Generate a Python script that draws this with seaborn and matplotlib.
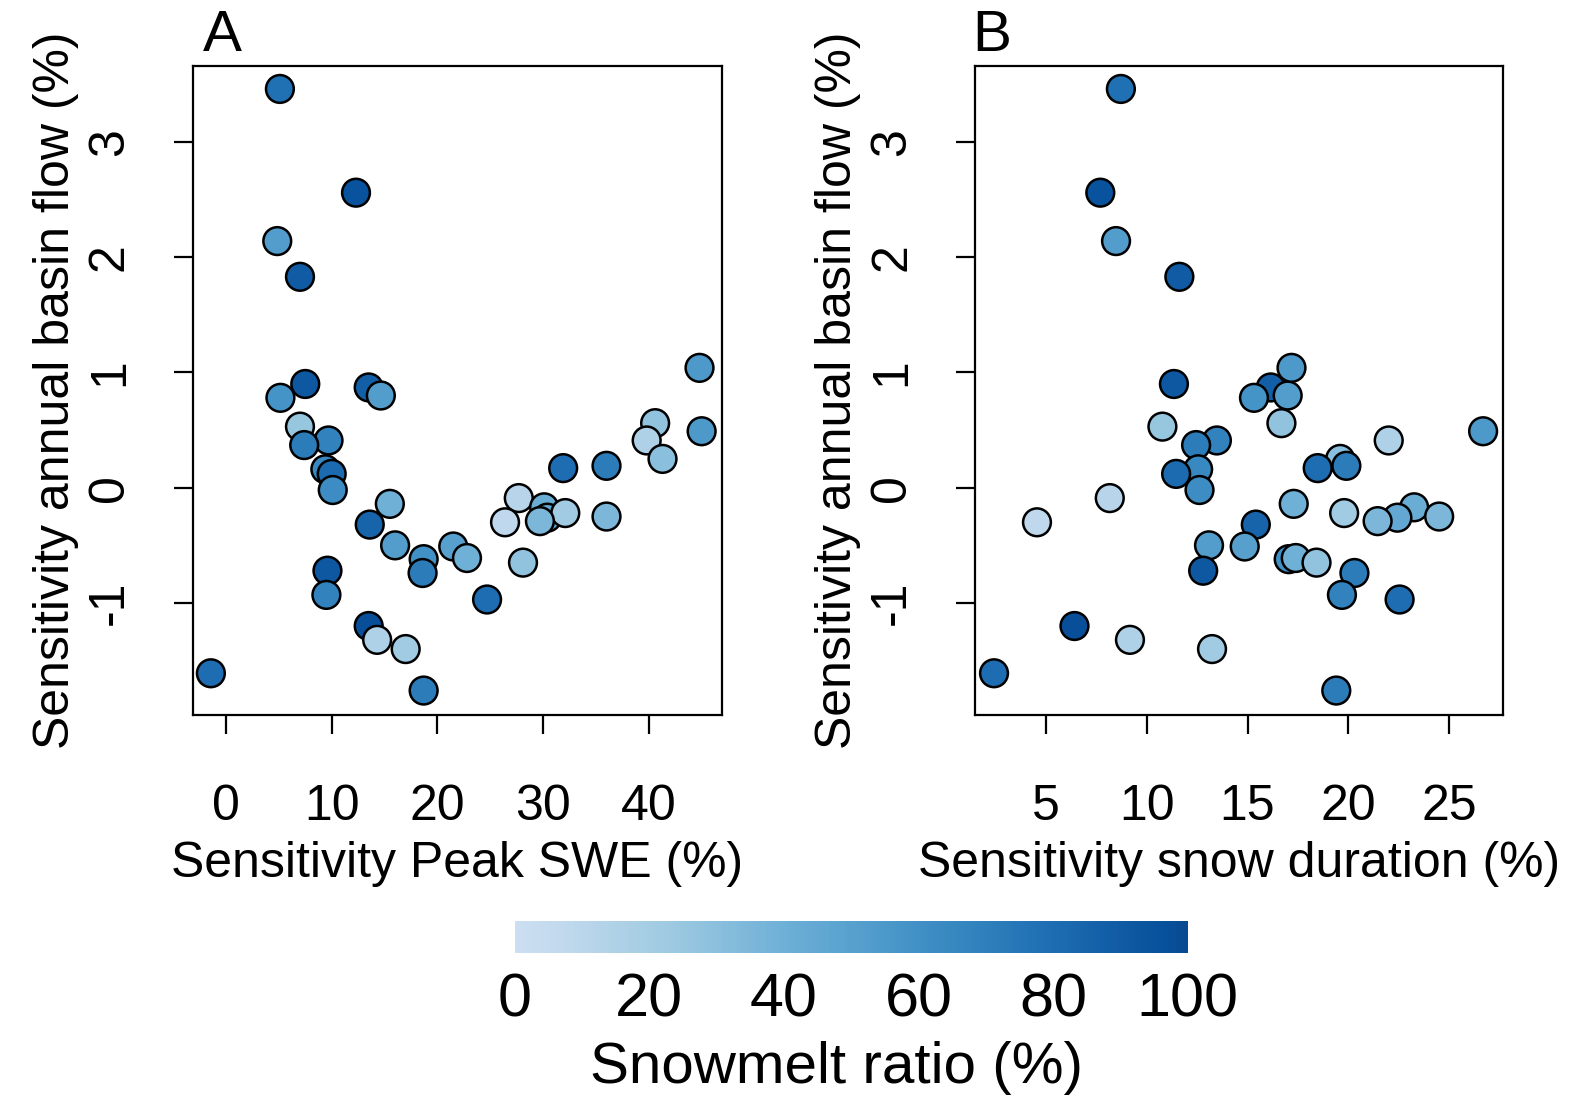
import numpy as np
import pandas as pd
import matplotlib
matplotlib.use("Agg")
import matplotlib.pyplot as plt
import seaborn as sns
from matplotlib.colors import LinearSegmentedColormap, Normalize
from matplotlib.cm import ScalarMappable

# ---- data ----
flow_sens = [3.46, 2.56, 2.14, 1.83, 0.90, 0.87, 0.80, 0.78, 1.04, 0.53, 0.56,
             0.49, 0.41, 0.37, 0.41, 0.25, 0.16, 0.12, -0.02, 0.17, 0.19, -0.14,
             -0.09, -0.17, -0.26, -0.22, -0.29, -0.30, -0.25, -0.32, -0.50, -0.62,
             -0.74, -0.51, -0.61, -0.65, -0.72, -0.93, -0.97, -1.20, -1.32, -1.40,
             -1.61, -1.76]
peak_swe_sens = [5.1, 12.3, 4.85, 7.0, 7.5, 13.5, 14.65, 5.15, 44.8, 7.0, 40.6,
                 45.0, 9.7, 7.4, 39.8, 41.3, 9.4, 10.0, 10.1, 31.9, 36.0, 15.5,
                 27.7, 30.1, 30.4, 32.1, 29.7, 26.4, 36.0, 13.6, 16.0, 18.7,
                 18.6, 21.5, 22.8, 28.1, 9.6, 9.5, 24.7, 13.5, 14.3, 17.0,
                 -1.43, 18.7]
snow_dur_sens = [8.72, 7.70, 8.48, 11.62, 11.35, 16.15, 16.99, 15.32, 17.18, 10.78, 16.68,
                 26.68, 13.48, 12.45, 22.0, 19.59, 12.55, 11.46, 12.62, 18.48, 19.90, 17.29,
                 8.17, 23.26, 22.43, 19.79, 21.45, 4.56, 24.5, 15.41, 13.09, 17.04,
                 20.30, 14.86, 17.39, 18.42, 12.80, 19.68, 22.54, 6.42, 9.17, 13.24,
                 2.43, 19.40]
snowmelt_ratio = [78, 95, 52, 90, 92, 88, 52, 58, 55, 25, 28,
                  55, 68, 72, 15, 30, 65, 82, 62, 80, 72, 40,
                  12, 42, 45, 22, 35, 8, 35, 85, 52, 60,
                  72, 50, 40, 28, 92, 68, 80, 98, 15, 22,
                  80, 72]

xticks_a = [0, 10, 20, 30, 40]
xticks_b = [5, 10, 15, 20, 25]
yticks = [-1, 0, 1, 2, 3]
cbar_ticks = [0, 20, 40, 60, 80, 100]

df = pd.DataFrame({"flow": flow_sens, "swe": peak_swe_sens,
                   "dur": snow_dur_sens, "ratio": snowmelt_ratio})

# ---- style ----
sns.set_style("white")
plt.rcParams['font.family'] = ['Liberation Sans', 'DejaVu Sans']
plt.rcParams['axes.unicode_minus'] = False
for k in ['text.color', 'axes.labelcolor', 'xtick.color', 'ytick.color']:
    plt.rcParams[k] = 'black'

base = plt.get_cmap("Blues")
cmap = LinearSegmentedColormap.from_list("blues_trunc", base(np.linspace(0.22, 0.9, 256)))
norm = Normalize(0, 100)

fig = plt.figure(figsize=(15.89, 11.02), dpi=100)
axA = fig.add_axes([0.1212, 0.3514, 0.333, 0.5888])
axB = fig.add_axes([0.6135, 0.3514, 0.3323, 0.5888])

tick_fs = 36
label_fs = 36

for ax, xcol, xticks, xlim, xlabel, letter, lx in [
        (axA, "swe", xticks_a, (-3.16, 46.9), "Sensitivity Peak SWE (%)", "A", 0.02),
        (axB, "dur", xticks_b, (1.48, 27.66), "Sensitivity snow duration (%)", "B", -0.005)]:
    sns.scatterplot(data=df, x=xcol, y="flow", hue="ratio", palette=cmap,
                    hue_norm=norm, s=400, edgecolor="black", linewidth=1.8,
                    legend=False, ax=ax, zorder=3)
    ax.set_xlim(*xlim)
    ax.set_ylim(-1.97, 3.66)
    ax.set_xticks(xticks)
    ax.set_yticks(yticks)
    ax.set_xticklabels([str(t) for t in xticks], fontsize=tick_fs)
    ax.set_yticklabels([str(t) for t in yticks], fontsize=tick_fs, rotation=90, va="center")
    ax.tick_params(axis="both", direction="out", length=14, width=1.6,
                   color="black", bottom=True, left=True)
    ax.tick_params(axis="x", pad=36)
    ax.tick_params(axis="y", pad=29)
    for sp in ax.spines.values():
        sp.set_visible(True)
        sp.set_color("black")
        sp.set_linewidth(1.6)
    ax.set_xlabel(xlabel, fontsize=label_fs, labelpad=8)
    ax.set_ylabel("Sensitivity annual basin flow (%)", fontsize=label_fs, labelpad=6)
    ax.text(lx, 1.005, letter, transform=ax.transAxes, fontsize=42,
            ha="left", va="bottom")

cax = fig.add_axes([0.324, 0.1352, 0.4235, 0.0294])
sm = ScalarMappable(norm=norm, cmap=cmap)
cb = fig.colorbar(sm, cax=cax, orientation="horizontal", ticks=cbar_ticks)
cb.outline.set_visible(False)
cb.ax.tick_params(length=0, labelsize=44, pad=14)
cb.ax.set_xticklabels([str(t) for t in cbar_ticks])
cb.set_label("Snowmelt ratio (%)", fontsize=42, labelpad=8)
cb.ax.xaxis.label.set_x(0.478)

fig.savefig("out.png", dpi=100)
